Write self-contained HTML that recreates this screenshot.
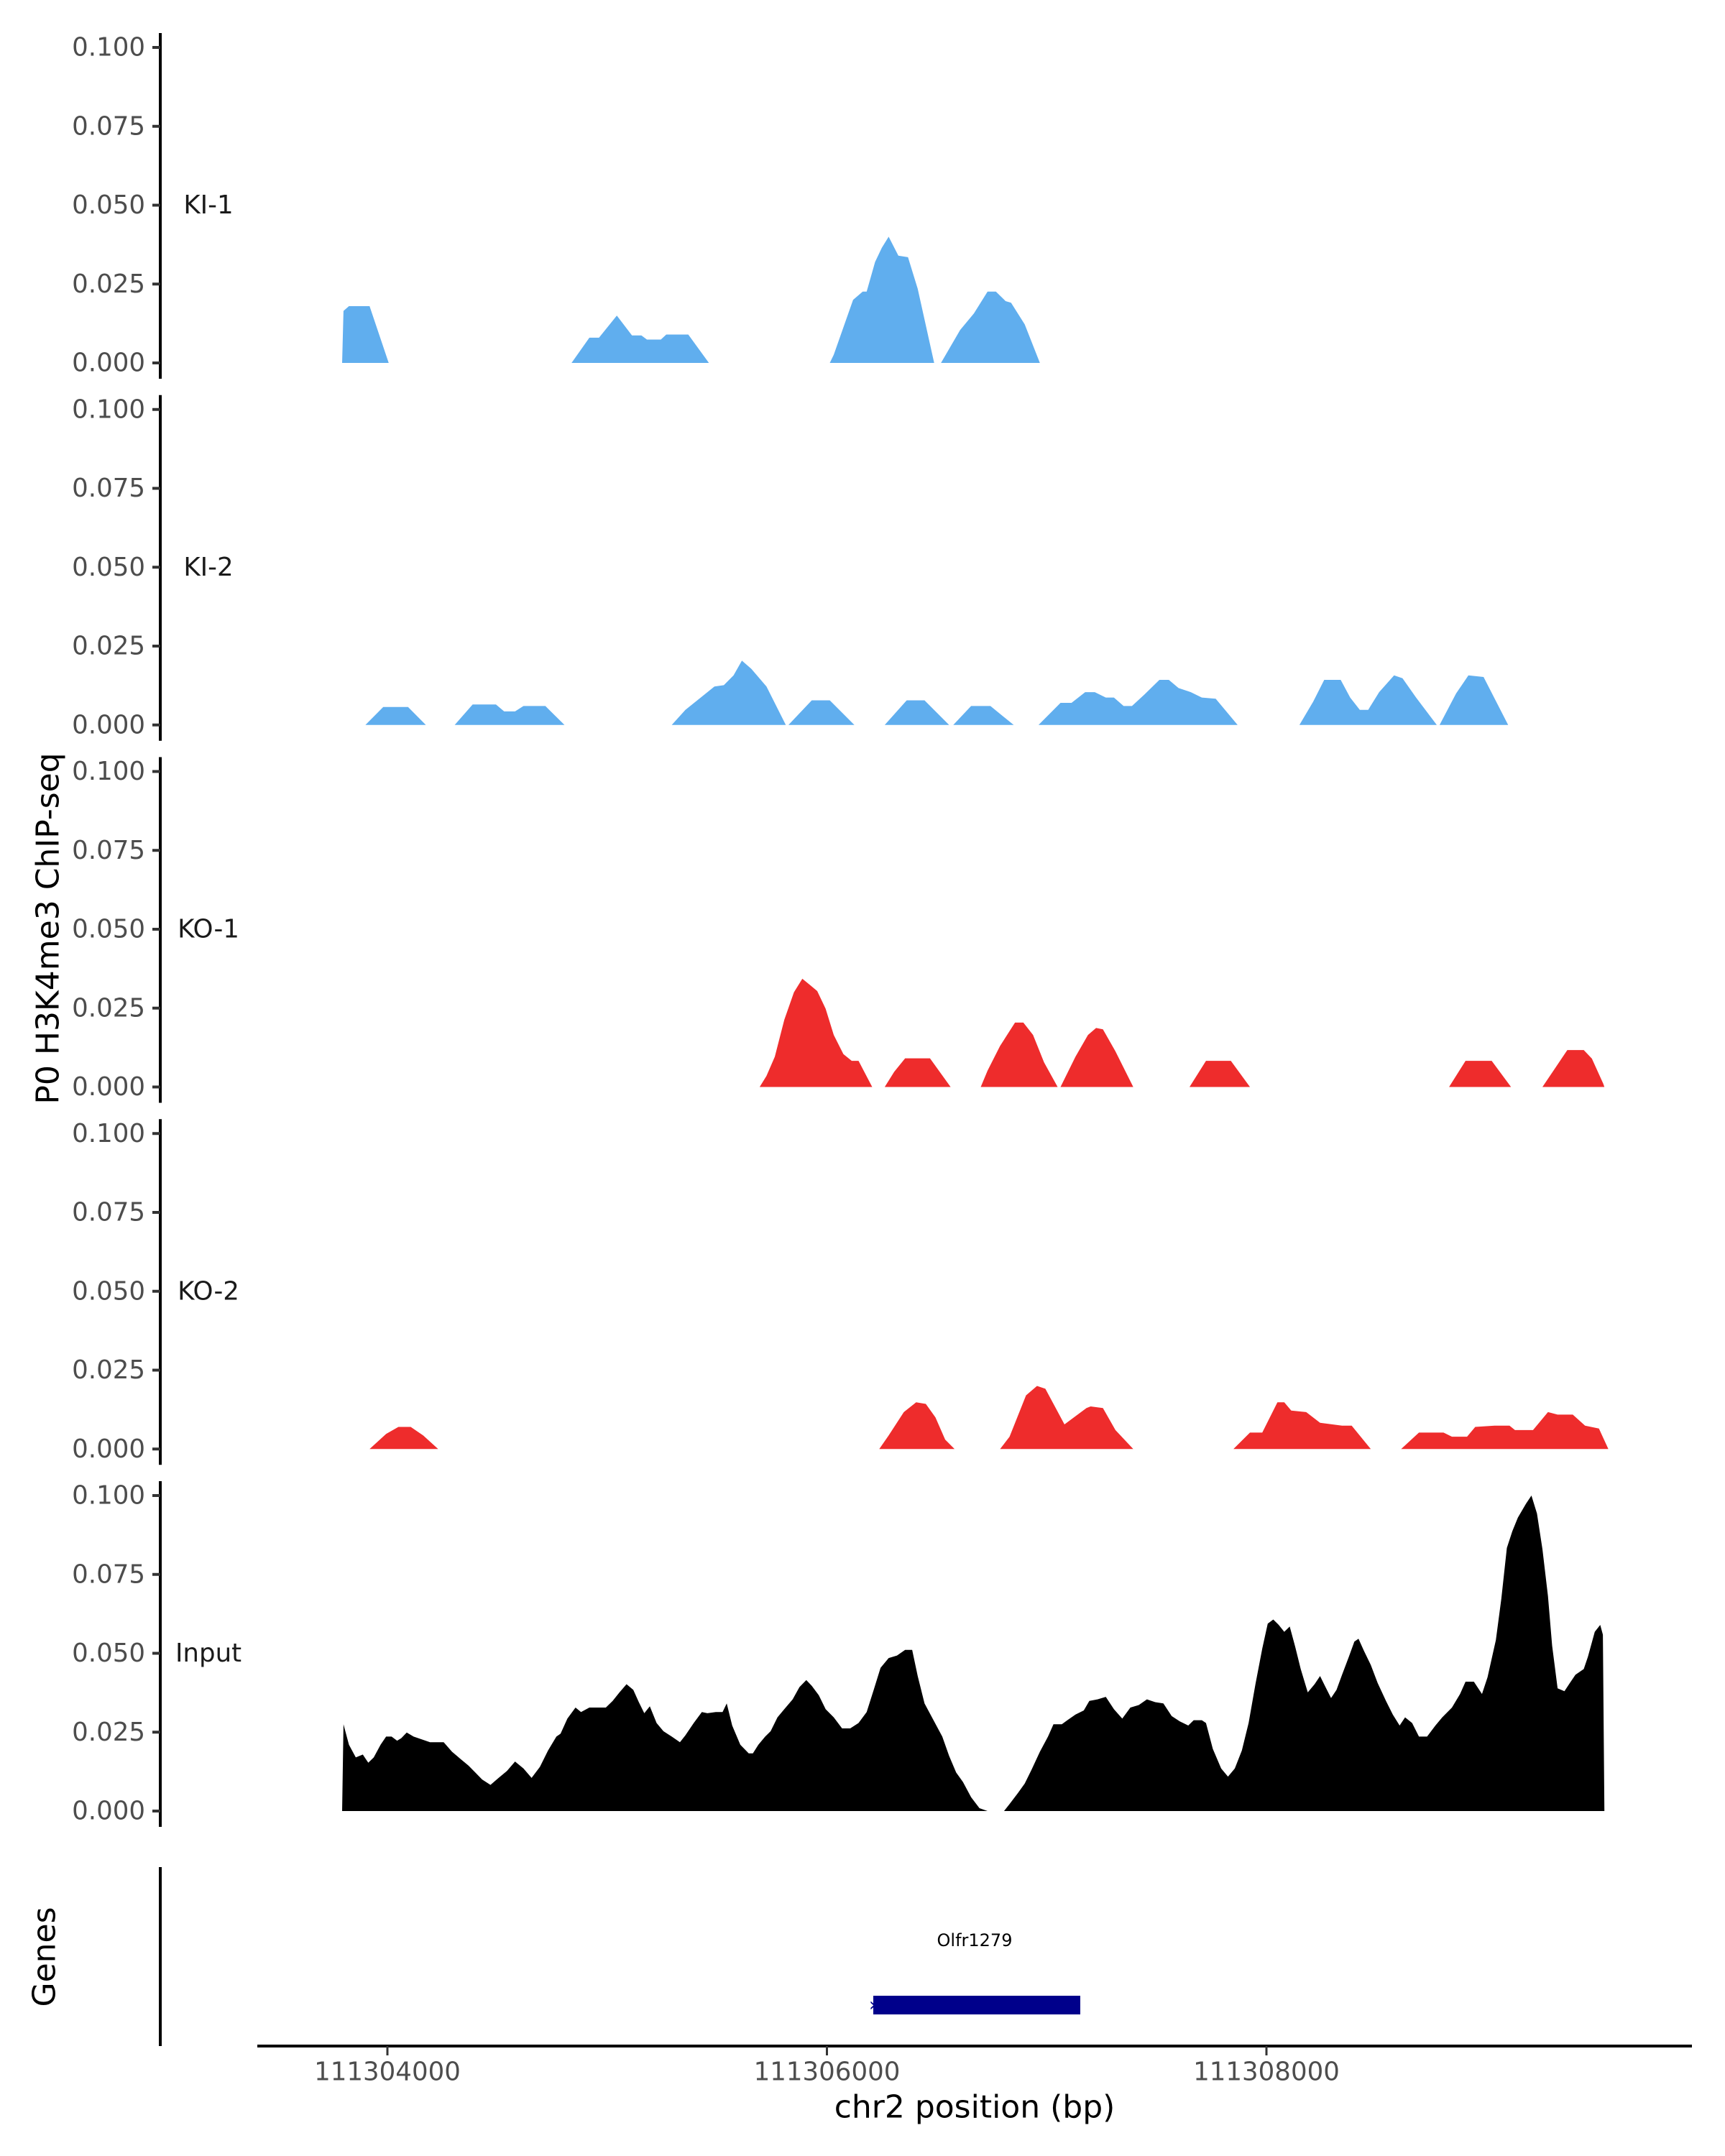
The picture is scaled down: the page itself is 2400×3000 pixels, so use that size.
<!DOCTYPE html>
<html><head><meta charset="utf-8"><style>
html,body{margin:0;padding:0;background:#fff;}
svg{display:block;font-family:"DejaVu Sans","Liberation Sans",sans-serif;}
</style></head><body>
<svg id="chart" width="2400" height="3000" viewBox="0 0 2400 3000" xmlns="http://www.w3.org/2000/svg">
<text x="67" y="1292" font-size="44" text-anchor="middle" dominant-baseline="central" transform="rotate(-90 67 1292)" fill="#000">P0 H3K4me3 ChIP-seq</text>
<text x="62" y="2723" font-size="44" text-anchor="middle" dominant-baseline="central" transform="rotate(-90 62 2723)" fill="#000">Genes</text>
<line x1="223" y1="2598" x2="223" y2="2847" stroke="#000" stroke-width="4"/>
<rect x="1215" y="2777" width="288" height="26" fill="#00008b"/>
<text x="1209" y="2798" font-size="26" fill="#00008b">›</text>
<text x="1356" y="2700" font-size="24" text-anchor="middle" dominant-baseline="central" fill="#000">Olfr1279</text>
<line x1="358" y1="2847" x2="2354" y2="2847" stroke="#000" stroke-width="4"/>
<text x="1356" y="2932" font-size="44" text-anchor="middle" dominant-baseline="central" fill="#000">chr2 position (bp)</text>
<g id="tracks"></g>
</svg>
<script>
const BASE = 111300000;
const xTicks = [111304000, 111306000, 111308000];
const yTicks = [0, 0.025, 0.05, 0.075, 0.1];
const trackNames = ["KI-1", "KI-2", "KO-1", "KO-2", "Input"];
const trackColors = ["#60aeee", "#60aeee", "#ee2c2c", "#ee2c2c", "#000000"];
const ki1Pos = [3794,3800,3825,3919,4006,4838,4919,4963,5044,5113,5156,5181,5244,5269,5369,5463,6013,6031,6119,6163,6181,6219,6250,6281,6325,6369,6413,6488,6519,6606,6669,6731,6769,6813,6838,6900,6969];
const ki1Val = [0,0.0165,0.018,0.018,0,0,0.008,0.008,0.015,0.0087,0.0087,0.0074,0.0074,0.009,0.009,0,0,0.0026,0.02,0.0226,0.0226,0.032,0.0365,0.04,0.034,0.0335,0.0235,0,0,0.0104,0.0157,0.0226,0.0226,0.0196,0.0191,0.0122,0];
const ki2Pos = [3900,3981,4094,4175,4306,4388,4494,4531,4581,4619,4719,4806,5294,5356,5419,5488,5531,5575,5613,5656,5725,5813,5825,5931,6013,6125,6263,6363,6444,6556,6575,6656,6744,6850,6963,7063,7113,7175,7219,7269,7306,7350,7388,7444,7513,7556,7600,7656,7706,7769,7869,8150,8213,8263,8338,8381,8425,8463,8513,8581,8619,8681,8775,8788,8863,8919,8988,9100];
const ki2Val = [0,0.0057,0.0057,0,0,0.0065,0.0065,0.0043,0.0043,0.006,0.006,0,0,0.0048,0.0083,0.0122,0.0126,0.0157,0.0204,0.0178,0.0122,0,0,0.0078,0.0078,0,0,0.0078,0.0078,0,0,0.006,0.006,0,0,0.007,0.007,0.0104,0.0104,0.0087,0.0087,0.006,0.006,0.0096,0.0143,0.0143,0.0117,0.0104,0.0087,0.0083,0,0,0.0074,0.0143,0.0143,0.0087,0.0048,0.0048,0.0104,0.0157,0.0148,0.0087,0,0,0.01,0.0157,0.0152,0];
const ko1Pos = [5694,5725,5763,5806,5850,5888,5925,5956,5994,6031,6075,6113,6144,6206,6263,6306,6356,6469,6563,6700,6731,6788,6856,6894,6938,6988,7050,7063,7131,7188,7225,7256,7313,7394,7650,7725,7838,7925,8831,8906,9025,9113,9256,9369,9444,9481,9533,9538];
const ko1Val = [0,0.0035,0.0096,0.0213,0.03,0.0343,0.0322,0.0304,0.0248,0.0165,0.0104,0.0083,0.0083,0,0,0.0048,0.0091,0.0091,0,0,0.0052,0.013,0.0204,0.0204,0.0165,0.0078,0,0,0.0096,0.0165,0.0187,0.0183,0.0113,0,0,0.0083,0.0083,0,0,0.0083,0.0083,0,0,0.0117,0.0117,0.009,0.001,0];
const ko2Pos = [3919,3994,4050,4106,4163,4231,6238,6281,6350,6406,6450,6494,6538,6581,6788,6831,6906,6956,6994,7044,7081,7181,7200,7256,7313,7394,7850,7925,7981,8050,8081,8113,8181,8244,8344,8388,8475,8613,8694,8806,8844,8913,8950,9038,9106,9131,9213,9281,9325,9394,9450,9513,9556];
const ko2Val = [0,0.0048,0.007,0.007,0.0043,0,0,0.0043,0.0117,0.0148,0.0143,0.01,0.003,0,0,0.0039,0.017,0.02,0.0191,0.0126,0.0078,0.013,0.0135,0.013,0.006,0,0,0.0052,0.0052,0.0148,0.0148,0.0122,0.0117,0.0083,0.0074,0.0074,0,0,0.0052,0.0052,0.0039,0.0039,0.007,0.0074,0.0074,0.006,0.006,0.0117,0.0109,0.0109,0.0074,0.0065,0];
const inPos = [3794,3800,3825,3856,3888,3913,3938,3969,3994,4019,4044,4063,4088,4119,4156,4194,4256,4294,4331,4369,4400,4431,4469,4506,4544,4581,4619,4656,4694,4731,4769,4788,4819,4856,4881,4919,4956,4994,5025,5056,5088,5119,5144,5169,5194,5225,5256,5294,5331,5356,5394,5431,5456,5494,5525,5544,5569,5606,5644,5663,5688,5719,5744,5775,5806,5844,5875,5906,5931,5963,5994,6031,6069,6106,6144,6181,6213,6244,6281,6319,6356,6388,6413,6444,6481,6525,6556,6588,6619,6656,6694,6731,6806,6831,6869,6900,6931,6969,7006,7031,7069,7094,7131,7169,7194,7231,7269,7306,7344,7381,7419,7456,7494,7531,7569,7606,7644,7669,7706,7725,7756,7794,7825,7856,7888,7919,7950,7981,8006,8031,8056,8081,8106,8131,8156,8188,8219,8244,8269,8294,8319,8344,8375,8400,8419,8444,8475,8506,8544,8575,8606,8631,8663,8694,8731,8769,8800,8844,8881,8906,8944,8981,9006,9044,9069,9094,9119,9144,9181,9206,9231,9256,9281,9300,9325,9356,9381,9406,9444,9463,9494,9519,9531,9538];
const inVal = [0,27.5,21.0,17.0,17.9,15.3,17.0,21.0,23.6,23.6,22.3,23.1,24.9,23.6,22.7,21.8,21.8,18.8,16.6,14.4,12.2,10.0,8.3,10.5,12.7,15.7,13.5,10.5,14.0,19.2,23.6,24.5,29.3,32.8,31.4,32.8,32.8,32.8,34.9,37.6,40.2,38.4,34.5,31.0,33.2,27.9,25.3,23.6,21.8,24.0,27.9,31.4,31.0,31.4,31.4,34.1,27.1,21.0,18.3,18.3,21.0,23.6,25.3,29.7,32.3,35.4,39.3,41.5,39.7,36.7,32.3,29.7,26.2,26.2,27.9,31.4,38.4,45.4,48.5,49.3,51.1,51.1,42.8,34.1,29.3,23.6,17.5,12.2,9.2,4.4,0.9,0,0,2.2,5.7,8.7,13.1,18.8,23.6,27.5,27.5,28.8,30.6,31.9,34.9,35.4,36.2,32.3,29.3,32.8,33.6,35.4,34.5,34.1,30.1,28.4,27.1,28.8,28.8,27.9,19.7,13.5,10.9,13.5,19.2,27.9,40.2,51.5,59.4,60.7,59.0,56.8,58.5,52.0,45.0,37.6,40.2,42.8,39.3,35.8,38.4,43.2,48.9,53.7,54.6,50.7,46.3,40.6,34.9,30.6,27.1,29.7,27.9,23.6,23.6,27.1,29.7,32.8,37.1,41.0,41.0,37.1,42.4,54.2,67.3,83.4,88.7,93.0,97.4,100,94.3,83.0,68.1,52.4,38.9,38.0,40.6,43.2,45.0,48.9,56.8,59.0,55.9,0].map(v => v / 1000);
const trackPos = [ki1Pos, ki2Pos, ko1Pos, ko2Pos, inPos];
const trackVal = [ki1Val, ki2Val, ko1Val, ko2Val, inVal];

const NS = "http://www.w3.org/2000/svg";
const g = document.getElementById("tracks");
function xScale(bp) { return 539 + (bp - 111304000) * 0.30575; }
function yScale(i, v) { return 505 + 503.75 * i - v * 4390; }
function mk(tag, attrs) { const e = document.createElementNS(NS, tag); for (const k in attrs) e.setAttribute(k, attrs[k]); return e; }

trackNames.forEach((name, i) => {
  const grp = mk("g", {});
  
  
  g.appendChild(grp);
  const axis = mk("line", {x1: 223, x2: 223, y1: yScale(i, 0.1) - 20, y2: yScale(i, 0) + 22, stroke: "#000", "stroke-width": 4});
  
  
  grp.appendChild(axis);
  yTicks.forEach(t => {
    const y = yScale(i, t);
    const tk = mk("line", {x1: 212, x2: 223, y1: y, y2: y, stroke: "#333", "stroke-width": 4});
    
    
    grp.appendChild(tk);
    const lb = mk("text", {x: 202, y: y, "font-size": 35.6, "text-anchor": "end", "dominant-baseline": "central", fill: "#4d4d4d"});
    lb.textContent = t.toFixed(3);
    
    
    grp.appendChild(lb);
  });
  const nl = mk("text", {x: 290, y: yScale(i, 0.05), "font-size": 35.6, "text-anchor": "middle", "dominant-baseline": "central", fill: "#1a1a1a"});
  nl.textContent = name;
  
  
  grp.appendChild(nl);
  const pos = trackPos[i], val = trackVal[i];
  let d = "M" + xScale(BASE + pos[0]).toFixed(1) + "," + yScale(i, 0);
  for (let k = 0; k < pos.length; k++) d += " L" + xScale(BASE + pos[k]).toFixed(1) + "," + yScale(i, val[k]).toFixed(1);
  d += " L" + xScale(BASE + pos[pos.length - 1]).toFixed(1) + "," + yScale(i, 0) + " Z";
  const area = mk("path", {d: d, fill: trackColors[i]});
  
  
  grp.appendChild(area);
});

xTicks.forEach(t => {
  const x = xScale(t);
  const tk = mk("line", {x1: x, x2: x, y1: 2847, y2: 2860, stroke: "#333", "stroke-width": 3});
  
  
  g.appendChild(tk);
  const lb = mk("text", {x: x, y: 2883, "font-size": 35.6, "text-anchor": "middle", "dominant-baseline": "central", fill: "#4d4d4d"});
  lb.textContent = String(t);
  
  
  g.appendChild(lb);
});
</script>
</body></html>
